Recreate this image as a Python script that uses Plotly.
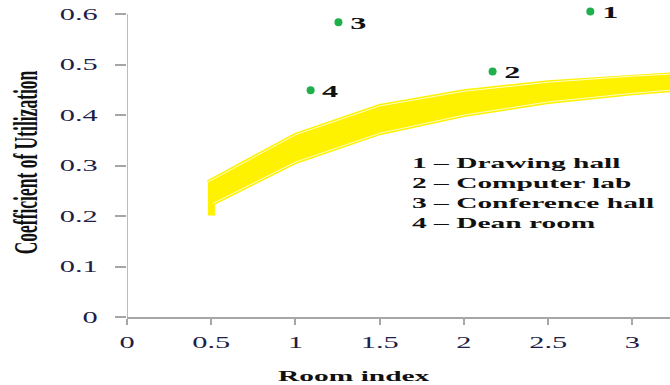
import plotly.graph_objects as go

# Recommended utilization band (upper / lower limit curves)
band_x_upper = [0.48, 1.0, 1.5, 2.0, 2.5, 3.0, 3.5]
band_y_upper = [0.267, 0.361, 0.418, 0.447, 0.465, 0.477, 0.486]
band_x_lower = [0.51, 1.0, 1.5, 2.0, 2.5, 3.0, 3.5]
band_y_lower = [0.225, 0.307, 0.364, 0.400, 0.426, 0.443, 0.457]
band_stub_bottom = 0.205

# Measured rooms
room_ids = ["1", "2", "3", "4"]
room_names = ["Drawing hall", "Computer lab", "Conference hall", "Dean room"]
room_index = [2.75, 2.17, 1.255, 1.09]
room_cu = [0.605, 0.486, 0.584, 0.449]

x_ticks = [0, 0.5, 1, 1.5, 2, 2.5, 3]
x_tick_text = ["0", "0.5", "1", "1.5", "2", "2.5", "3"]
y_ticks = [0, 0.1, 0.2, 0.3, 0.4, 0.5, 0.6]
y_tick_text = ["0", "0.1", "0.2", "0.3", "0.4", "0.5", "0.6"]
y_axis_top = 0.6

SERIF = "Liberation Serif, Times New Roman, serif"
YELLOW = "#fff200"
GREEN = "#1fb04b"
AXIS_GREY = "#a6a6a6"

# closed outline of the band: upper edge, lower edge back, then the small foot at the left end
poly_x = band_x_upper + band_x_lower[::-1] + [band_x_lower[0], band_x_upper[0]]
poly_y = band_y_upper + band_y_lower[::-1] + [band_stub_bottom, band_stub_bottom]

fig = go.Figure()
fig.add_trace(go.Scatter(
    x=poly_x, y=poly_y, mode="lines", fill="toself", fillcolor=YELLOW,
    line=dict(color=YELLOW, width=4), hoverinfo="skip", showlegend=False,
))
for bx, by in ((band_x_upper, band_y_upper), (band_x_lower, band_y_lower)):
    fig.add_trace(go.Scatter(
        x=bx, y=by, mode="lines", line=dict(color="rgba(255,255,255,0.9)", width=0.9),
        hoverinfo="skip", showlegend=False,
    ))

fig.add_trace(go.Scatter(
    x=room_index, y=room_cu, mode="markers",
    marker=dict(color=GREEN, size=8), cliponaxis=False, showlegend=False,
))

annotations = []
for rid, rx, ry in zip(room_ids, room_index, room_cu):
    annotations.append(dict(
        x=rx, y=ry, xref="x", yref="y", text=rid, showarrow=False,
        xanchor="center", yanchor="middle", xshift=20, yshift=-1,
        font=dict(family=SERIF, size=17, color="#111111", weight="bold"),
    ))

legend_text = "<br>".join(f"{rid} – {name}" for rid, name in zip(room_ids, room_names))
annotations.append(dict(
    x=0.5205, y=0.404, xref="paper", yref="paper", text=legend_text, showarrow=False,
    xanchor="left", yanchor="middle", align="left",
    font=dict(family=SERIF, size=15.5, color="#111111", weight="bold"),
))

# x-axis title, centred under the scale
annotations.append(dict(
    x=0, y=0, xref="paper", yref="paper", text="Room index", showarrow=False,
    xanchor="center", yanchor="middle", xshift=227, yshift=-58,
    font=dict(family=SERIF, size=15.5, color="#111111", weight="bold"),
))

# y axis line drawn only up to the last tick; the plot area reaches a little higher
shapes = [dict(
    type="line", xref="x", yref="y", x0=0, x1=0, y0=0, y1=y_axis_top,
    line=dict(color=AXIS_GREY, width=1.5), layer="above",
)]

fig.update_layout(
    width=670, height=385,
    margin=dict(l=127, r=0, t=8, b=68),
    paper_bgcolor="white", plot_bgcolor="white",
    annotations=annotations, shapes=shapes,
    xaxis=dict(
        range=[0, 3.223], tickmode="array", tickvals=x_ticks, ticktext=x_tick_text,
        showgrid=False, zeroline=False, showline=True, linecolor=AXIS_GREY, linewidth=1.5,
        ticks="outside", ticklen=6, tickwidth=1.5, tickcolor=AXIS_GREY, ticklabelstandoff=4,
        tickfont=dict(family=SERIF, size=16, color="#1e1e46"),
    ),
    yaxis=dict(
        range=[0, 0.612], tickmode="array", tickvals=y_ticks, ticktext=y_tick_text,
        showgrid=False, zeroline=False, showline=False,
        ticks="outside", ticklen=11, tickwidth=1.5, tickcolor=AXIS_GREY, ticklabelstandoff=14,
        tickfont=dict(family=SERIF, size=16, color="#1e1e46"),
        title=dict(text="Coefficient of Utilization", standoff=41,
                   font=dict(family=SERIF, size=17.5, color="#111111", weight="bold")),
    ),
)

# The lettering of this figure is set wide: stretch every text node horizontally
# about its own anchor point once the plot has been drawn.
stretch_js = """
(function () {
  var gd = document.getElementById('{plot_id}');
  if (!gd) return;
  var S = 1.9;
  var nodes = gd.querySelectorAll('svg.main-svg text');
  nodes.forEach(function (el) {
    if (!el.textContent || !el.textContent.trim()) return;
    var r = el.getBoundingClientRect();
    var anchor = el.getAttribute('text-anchor') || window.getComputedStyle(el).textAnchor;
    var ax = r.left + r.width / 2;
    if (anchor === 'start') ax = r.left;
    else if (anchor === 'end') ax = r.right;
    var parent = el.parentNode;
    var svg = el.ownerSVGElement;
    var pt = svg.createSVGPoint();
    pt.x = ax; pt.y = r.top;
    var q = pt.matrixTransform(parent.getScreenCTM().inverse());
    var old = el.getAttribute('transform') || '';
    el.setAttribute('transform',
      'translate(' + q.x + ',0) scale(' + S + ',1) translate(' + (-q.x) + ',0) ' + old);
  });
})();
"""

fig.write_html("out.html", config={"displayModeBar": False}, post_script=stretch_js)
